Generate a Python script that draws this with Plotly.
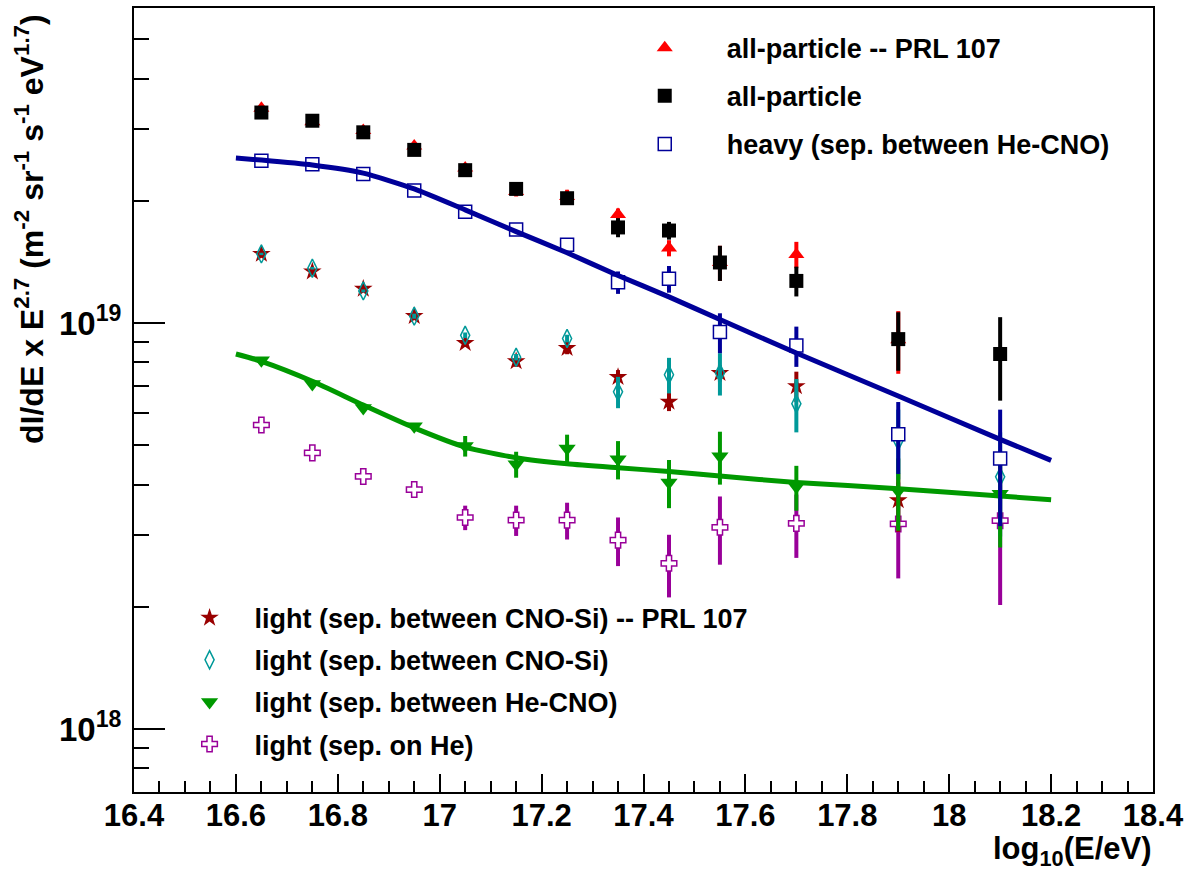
import plotly.graph_objects as go

# ---------------- data ----------------
E_all = [16.65, 16.75, 16.85, 16.95, 17.05, 17.15, 17.25, 17.35, 17.45, 17.55, 17.7, 17.9, 18.1]
E_prl = [16.65, 16.75, 16.85, 16.95, 17.05, 17.15, 17.25, 17.35, 17.45, 17.55, 17.7, 17.9]
E_fit = [16.6, 16.65, 16.75, 16.85, 16.95, 17.05, 17.15, 17.25, 17.35, 17.45, 17.55, 17.7, 17.9, 18.1, 18.2]

# all-particle (this work), units 1e19
allp = [3.30, 3.15, 2.95, 2.67, 2.38, 2.14, 2.03, 1.72, 1.69, 1.41, 1.27, 0.913, 0.839]
allp_err = [0.02, 0.02, 0.03, 0.04, 0.05, 0.06, 0.05, 0.093, 0.085, 0.14, 0.107, 0.15, 0.195]

# all-particle PRL 107, units 1e19
allp_prl = [3.38, 3.13, 2.98, 2.73, 2.41, 2.11, 2.05, 1.85, 1.53, 1.41, 1.475, 0.91]
allp_prl_err = [0.02, 0.02, 0.03, 0.04, 0.05, 0.06, 0.08, 0.065, 0.07, 0.14, 0.11, 0.16]

# heavy (sep. between He-CNO), units 1e19
heavy = [2.51, 2.46, 2.33, 2.12, 1.88, 1.70, 1.56, 1.26, 1.285, 0.95, 0.88, 0.532, 0.464]
heavy_err = [0.01, 0.01, 0.015, 0.02, 0.02, 0.025, 0.03, 0.08, 0.097, 0.107, 0.10, 0.107, 0.148]
heavy_fit = [2.55, 2.52, 2.45, 2.34, 2.14, 1.90, 1.68, 1.49, 1.31, 1.16, 1.02, 0.844, 0.661, 0.517, 0.459]

# light (sep. between CNO-Si) PRL 107, units 1e19
light_cnosi_prl = [1.48, 1.34, 1.215, 1.04, 0.893, 0.805, 0.868, 0.736, 0.640, 0.753, 0.699, 0.366]
light_cnosi_prl_err = [0.01, 0.01, 0.01, 0.015, 0.02, 0.025, 0.03, 0.03, 0.033, 0.035, 0.06, 0.06]

# light (sep. between CNO-Si), units 1e19
light_cnosi = [1.48, 1.365, 1.20, 1.04, 0.933, 0.824, 0.916, 0.677, 0.746, 0.753, 0.633, 0.512, 0.418]
light_cnosi_err = [0.01, 0.01, 0.01, 0.015, 0.015, 0.015, 0.02, 0.06, 0.075, 0.09, 0.095, 0.10, 0.12]

# light (sep. between He-CNO), units 1e18
light_hecno = [8.1, 7.08, 6.18, 5.57, 4.98, 4.49, 4.91, 4.62, 4.05, 4.70, 3.95, 3.86, 3.80]
light_hecno_err = [0.05, 0.05, 0.08, 0.1, 0.29, 0.33, 0.4, 0.5, 0.55, 0.7, 0.5, 0.78, 1.0]
light_fit = [8.39, 8.05, 7.19, 6.28, 5.52, 4.95, 4.66, 4.50, 4.40, 4.31, 4.20, 4.05, 3.91, 3.75, 3.67]

# light (sep. on He), units 1e18
light_he = [5.61, 4.79, 4.19, 3.89, 3.32, 3.27, 3.27, 2.92, 2.56, 3.14, 3.21, 3.20, 3.26]
light_he_err = [0.04, 0.05, 0.05, 0.15, 0.23, 0.28, 0.34, 0.40, 0.45, 0.60, 0.57, 0.85, 1.24]

x_ticks = [16.4, 16.6, 16.8, 17.0, 17.2, 17.4, 17.6, 17.8, 18.0, 18.2, 18.4]
x_ticktext = ["16.4", "16.6", "16.8", "17", "17.2", "17.4", "17.6", "17.8", "18", "18.2", "18.4"]
y_ticks = [1e18, 1e19]
y_ticktext = ["10<sup>18</sup>", "10<sup>19</sup>"]
y_minor = [8e17, 9e17, 2e18, 3e18, 4e18, 5e18, 6e18, 7e18, 8e18, 9e18, 2e19, 3e19, 4e19, 5e19]

# ---------------- style ----------------
RED = "#FF0000"
BLACK = "#000000"
BLUE = "#000099"
GREEN = "#009900"
DKRED = "#990000"
TEAL = "#009999"
MAGENTA = "#990099"
FONT = "Liberation Sans, Arial, Helvetica, sans-serif"


def s19(v):
    return [a * 1e19 for a in v]


def s18(v):
    return [a * 1e18 for a in v]


def errbar(err, color):
    return dict(type="data", array=err, color=color, thickness=4, width=0, visible=True)


fig = go.Figure()

# light sep. on He (magenta open cross)
fig.add_trace(go.Scatter(
    x=E_all, y=s18(light_he), mode="markers", name="light (sep. on He)",
    error_y=errbar(s18(light_he_err), MAGENTA),
    marker=dict(symbol="cross", size=13, color="white", line=dict(color=MAGENTA, width=1.5)),
    legend="legend2", legendgroup="g7", legendrank=7))

# light CNO-Si PRL (dark red star)
fig.add_trace(go.Scatter(
    x=E_prl, y=s19(light_cnosi_prl), mode="markers",
    name="light (sep. between CNO-Si) -- PRL 107",
    error_y=errbar(s19(light_cnosi_prl_err), DKRED),
    marker=dict(symbol="star", size=14, color=DKRED, line=dict(width=0)),
    legend="legend2", legendgroup="g4", legendrank=4))

# light CNO-Si (teal open diamond)
fig.add_trace(go.Scatter(
    x=E_all, y=s19(light_cnosi), mode="markers", name="light (sep. between CNO-Si)",
    error_y=errbar(s19(light_cnosi_err), TEAL),
    marker=dict(symbol="diamond-tall-open", size=13, color=TEAL, line=dict(width=1.5)),
    legend="legend2", legendgroup="g5", legendrank=5))

# light He-CNO (green down triangle) + fit
fig.add_trace(go.Scatter(
    x=E_all, y=s18(light_hecno), mode="markers", name="light (sep. between He-CNO)",
    error_y=errbar(s18(light_hecno_err), GREEN),
    marker=dict(symbol="triangle-down", size=15, color=GREEN, line=dict(width=0)),
    legend="legend2", legendgroup="g6", legendrank=6))
fig.add_trace(go.Scatter(
    x=E_fit, y=s18(light_fit), mode="lines", line=dict(color=GREEN, width=5, shape="spline", smoothing=0.6),
    showlegend=False, hoverinfo="skip"))

# heavy (blue open square) + fit
fig.add_trace(go.Scatter(
    x=E_all, y=s19(heavy), mode="markers", name="heavy (sep. between He-CNO)",
    error_y=errbar(s19(heavy_err), BLUE),
    marker=dict(symbol="square", size=13, color="white", line=dict(color=BLUE, width=1.5)),
    legend="legend", legendgroup="g3", legendrank=3))
fig.add_trace(go.Scatter(
    x=E_fit, y=s19(heavy_fit), mode="lines", line=dict(color=BLUE, width=5, shape="spline", smoothing=0.6),
    showlegend=False, hoverinfo="skip"))

# all-particle PRL (red triangle)
fig.add_trace(go.Scatter(
    x=E_prl, y=s19(allp_prl), mode="markers", name="all-particle -- PRL 107",
    error_y=errbar(s19(allp_prl_err), RED),
    marker=dict(symbol="triangle-up", size=14, color=RED, line=dict(width=0)),
    legend="legend", legendgroup="g1", legendrank=1))

# all-particle (black square)
fig.add_trace(go.Scatter(
    x=E_all, y=s19(allp), mode="markers", name="all-particle",
    error_y=errbar(s19(allp_err), BLACK),
    marker=dict(symbol="square", size=14, color=BLACK, line=dict(width=0)),
    legend="legend", legendgroup="g2", legendrank=2))

axis_common = dict(
    showgrid=False, zeroline=False, showline=True, linecolor="black", linewidth=2,
    mirror=True, ticks="inside", tickcolor="black", tickwidth=2,
)

fig.update_layout(
    width=1190, height=877,
    margin=dict(l=134, r=36, t=6, b=85),
    paper_bgcolor="white", plot_bgcolor="white",
    font=dict(family=FONT, color="black", weight="bold"),
    xaxis=dict(
        range=[16.4, 18.4], tickvals=x_ticks, ticktext=x_ticktext, ticklen=18,
        ticklabelstandoff=-5,
        tickfont=dict(family=FONT, size=31, color="black", weight="bold"),
        minor=dict(dtick=0.05, tick0=16.4, ticks="inside", ticklen=11, tickwidth=2, tickcolor="black"),
        **axis_common),
    yaxis=dict(
        type="log", range=[17.845, 19.776], tickvals=y_ticks, ticktext=y_ticktext, ticklen=31,
        ticklabelstandoff=4,
        tickfont=dict(family=FONT, size=33, color="black", weight="bold"),
        minor=dict(tickvals=y_minor, ticks="inside", ticklen=15, tickwidth=2, tickcolor="black"),
        **axis_common),
    legend=dict(
        x=0.46, y=0.980, xanchor="left", yanchor="top", bgcolor="rgba(0,0,0,0)",
        font=dict(family=FONT, size=27, color="black", weight="bold"),
        itemwidth=114, tracegroupgap=10, traceorder="grouped"),
    legend2=dict(
        x=0.030, y=0.253, xanchor="left", yanchor="top", bgcolor="rgba(0,0,0,0)",
        font=dict(family=FONT, size=27, color="black", weight="bold"),
        itemwidth=80, tracegroupgap=4, traceorder="grouped"),
    annotations=[
        dict(text="dI/dE x E<sup>2.7</sup> (m<sup>-2</sup> sr<sup>-1</sup> s<sup>-1</sup> eV<sup>1.7</sup>)",
             textangle=-90, xref="paper", yref="paper", x=-0.103, y=0.995,
             xanchor="center", yanchor="top", showarrow=False,
             font=dict(family=FONT, size=32, color="black", weight="bold")),
        dict(text="log<sub>10</sub>(E/eV)", xref="paper", yref="paper", x=1.0, y=-0.047,
             xanchor="right", yanchor="top", showarrow=False,
             font=dict(family=FONT, size=31, color="black", weight="bold")),
    ],
)

fig.write_html("out.html", config={"displayModeBar": False},
               post_script="document.body.style.margin='0';")
